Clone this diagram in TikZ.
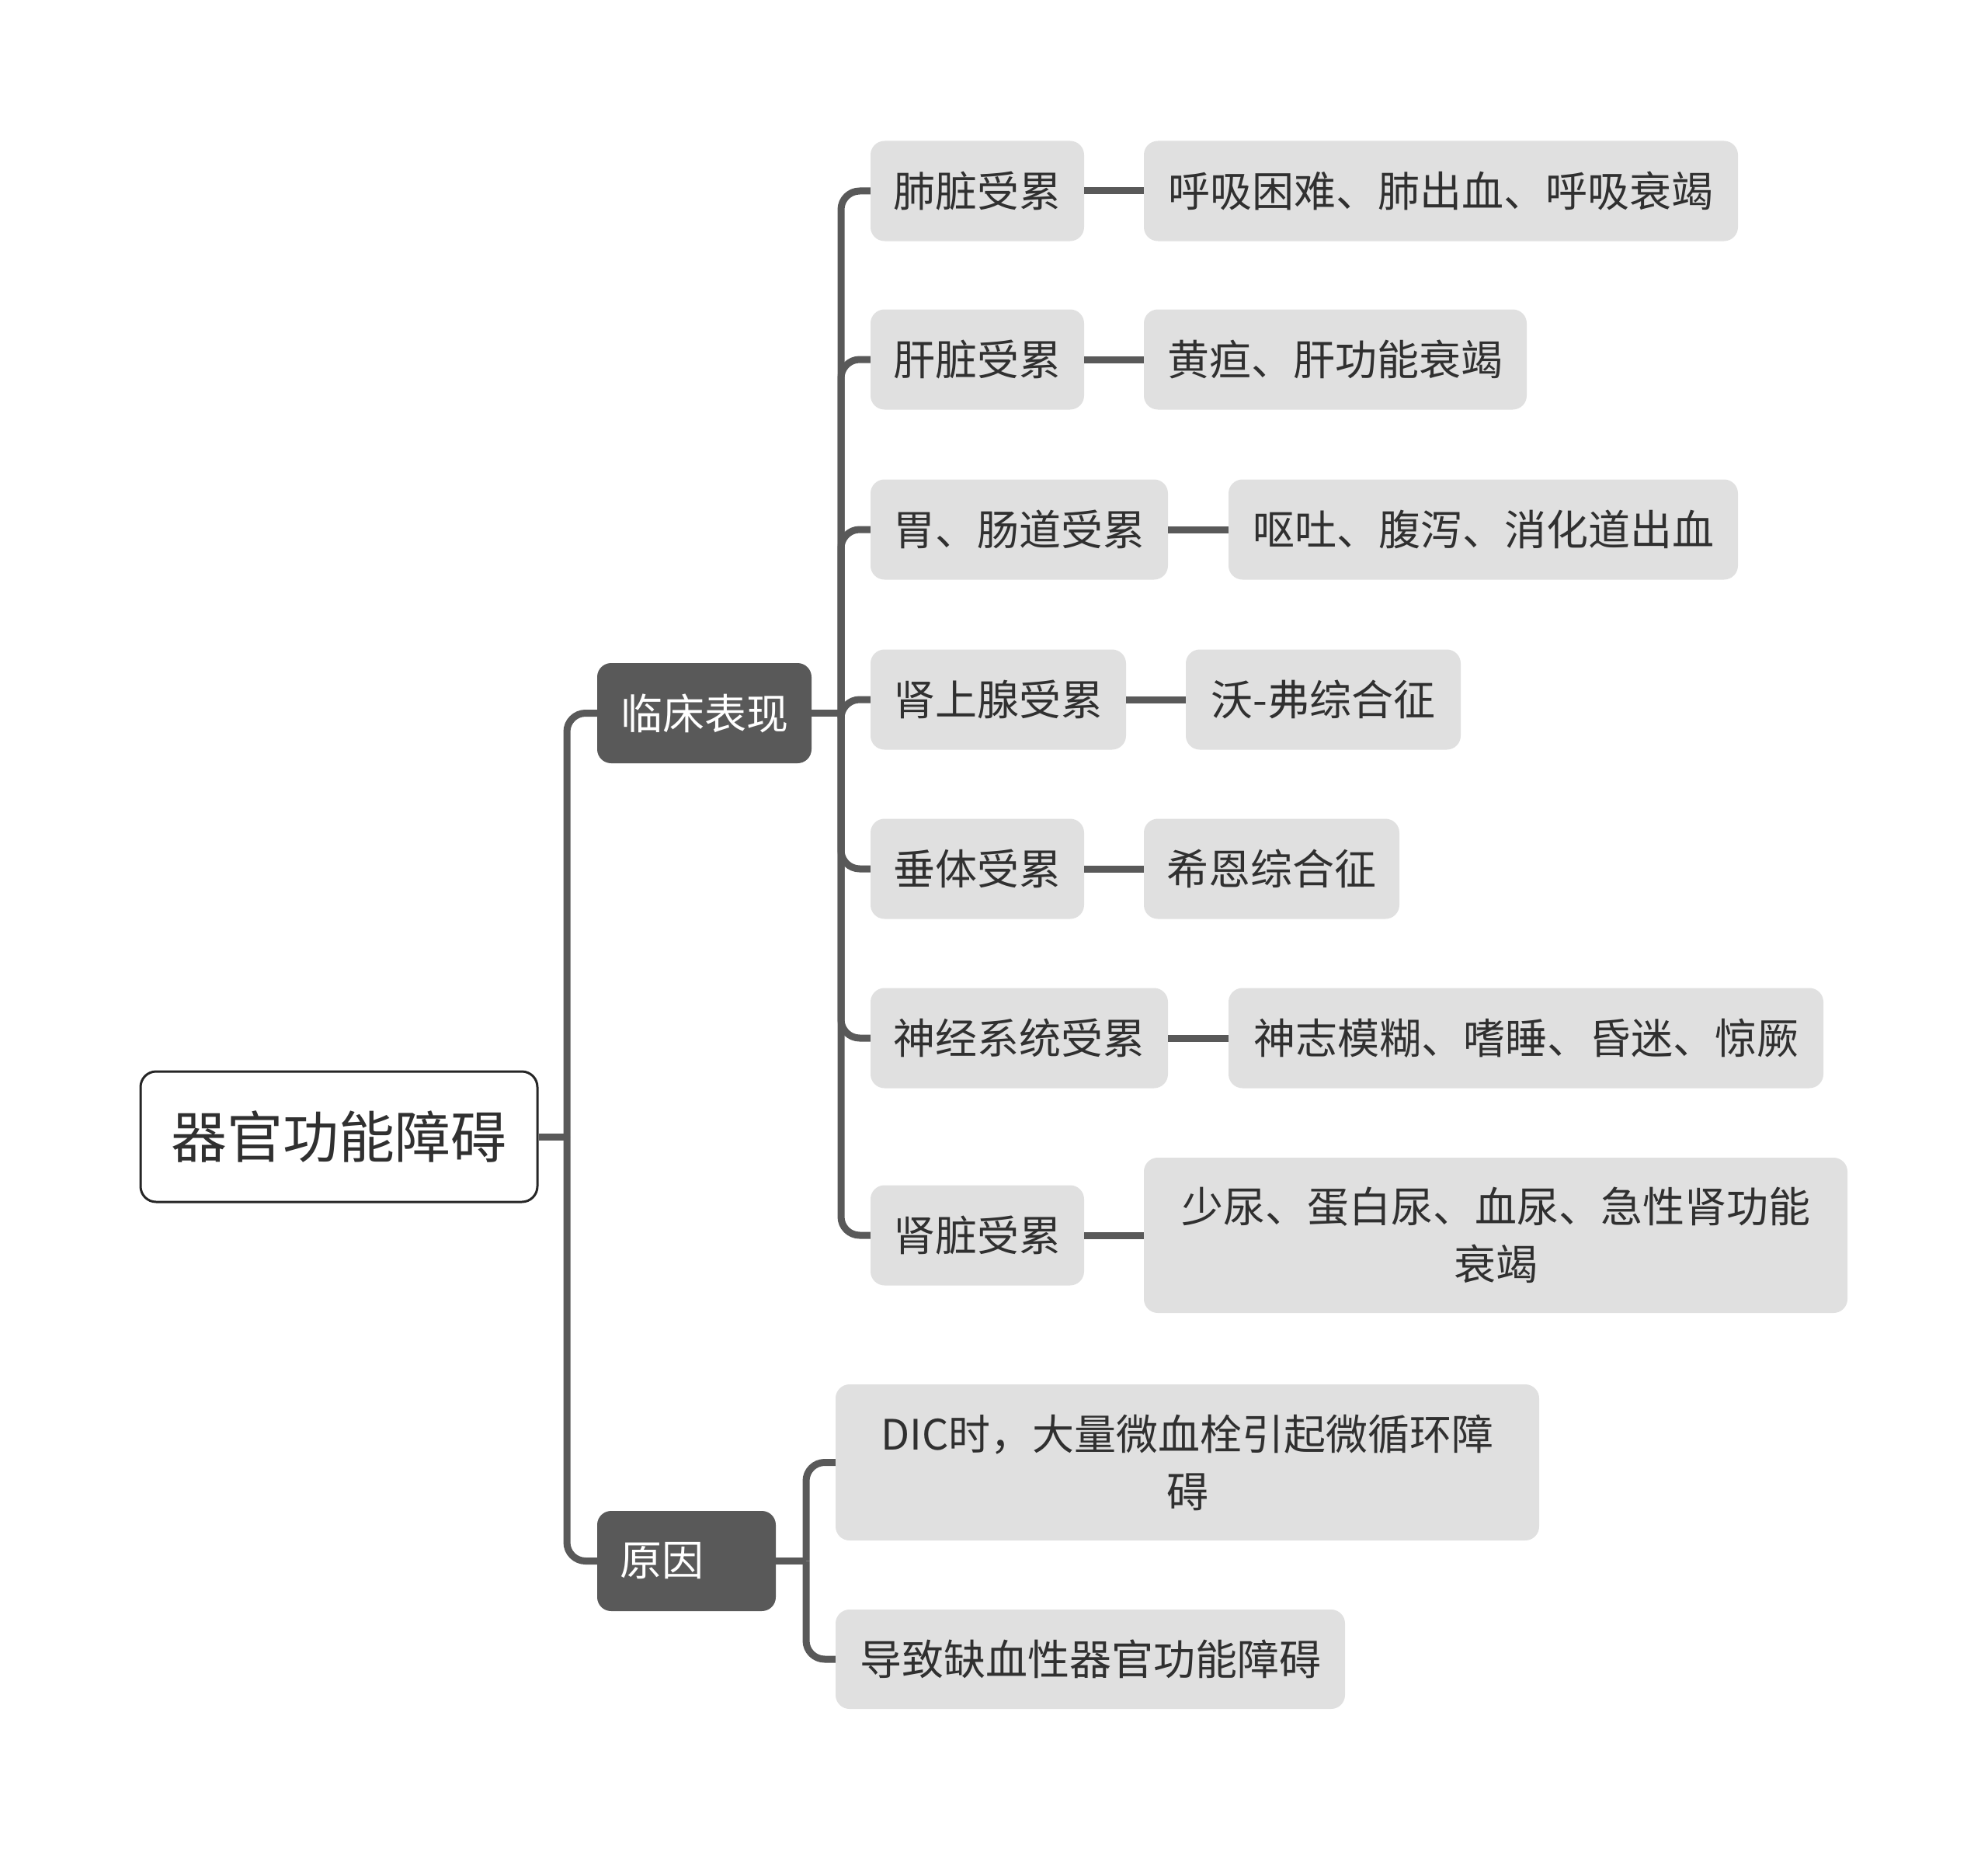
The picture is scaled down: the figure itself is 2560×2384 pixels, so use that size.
\documentclass[tikz,border=0pt]{standalone}
\usepackage{fontspec}
\setmainfont{Noto Sans CJK SC}
\definecolor{linec}{HTML}{595959}
\definecolor{boxc}{HTML}{E0E0E0}
\definecolor{txtc}{HTML}{303030}
\begin{document}
\begin{tikzpicture}[x=1pt,y=-1pt,
  rootbox/.style={draw=txtc!80!black,line width=3pt,fill=white,rounded corners=20pt,inner sep=0pt,text=txtc,font=\fontsize{72}{86}\selectfont},
  lonebox/.style={fill=linec,rounded corners=18pt,inner sep=0pt,text=white,minimum height=129,font=\fontsize{54}{74}\selectfont},
  ltwobox/.style={fill=boxc,rounded corners=18pt,inner sep=0pt,text=txtc,minimum height=129,align=center,font=\fontsize{54}{74}\selectfont},
  conn/.style={draw=linec,line width=9pt},
  rconn/.style={draw=linec,line width=9pt,rounded corners=24pt}]
\useasboundingbox[fill=white] (0,0) rectangle (2560,2384);

\node[rootbox,minimum width=511,minimum height=168] (root) at (436.5,1464) {器官功能障碍};
\node[lonebox,minimum width=276] (la) at (907,918.5) {临床表现};
\node[lonebox,minimum width=230] (lb) at (884,2010.5) {\makebox[172pt][l]{原因}};

\node[ltwobox,minimum width=275] (a1) at (1258.5,246) {肺脏受累};
\node[ltwobox,minimum width=765] (b1) at (1855.5,246) {呼吸困难、肺出血、呼吸衰竭};
\node[ltwobox,minimum width=275] (a2) at (1258.5,463) {肝脏受累};
\node[ltwobox,minimum width=493] (b2) at (1719.5,463) {黄疸、肝功能衰竭};
\node[ltwobox,minimum width=383] (a3) at (1312.5,682) {胃、肠道受累};
\node[ltwobox,minimum width=656] (b3) at (1910,682) {呕吐、腹泻、消化道出血};
\node[ltwobox,minimum width=329] (a4) at (1285.5,901) {肾上腺受累};
\node[ltwobox,minimum width=354] (b4) at (1704,901) {沃-弗综合征};
\node[ltwobox,minimum width=275] (a5) at (1258.5,1119) {垂体受累};
\node[ltwobox,minimum width=329] (b5) at (1637.5,1119) {希恩综合征};
\node[ltwobox,minimum width=383] (a6) at (1312.5,1337) {神经系统受累};
\node[ltwobox,minimum width=766] (b6) at (1965,1337) {神志模糊、嗜睡、昏迷、惊厥};
\node[ltwobox,minimum width=275] (a7) at (1258.5,1591) {肾脏受累};
\node[ltwobox,minimum width=906,minimum height=200] (b7) at (1926,1591) {少尿、蛋白尿、血尿、急性肾功能\\衰竭};

\node[ltwobox,minimum width=906,minimum height=201] (c1) at (1529,1883.5) {DIC时，大量微血栓引起微循环障\\碍};
\node[ltwobox,minimum width=656,minimum height=128] (c2) at (1404,2137) {导致缺血性器官功能障碍};

% level 1
\coordinate (ja) at (730,1464);
\draw[conn] (root.east) -- (ja);
\draw[rconn] (ja) |- (la.west);
\draw[rconn] (ja) |- (lb.west);

% level 2 under 临床表现
\coordinate (jb) at (1083,918.5);
\draw[conn] (la.east) -- (jb);
\foreach \n in {a1,a2,a3,a4,a5,a6,a7} {
  \draw[rconn] (jb) |- (\n.west);
}
% level 2 under 原因
\coordinate (jc) at (1038,2010.5);
\draw[conn] (lb.east) -- (jc);
\draw[rconn] (jc) |- (c1.west);
\draw[rconn] (jc) |- (c2.west);

% leaves
\draw[conn] (a1.east) -- (b1.west);
\draw[conn] (a2.east) -- (b2.west);
\draw[conn] (a3.east) -- (b3.west);
\draw[conn] (a4.east) -- (b4.west);
\draw[conn] (a5.east) -- (b5.west);
\draw[conn] (a6.east) -- (b6.west);
\draw[conn] (a7.east) -- (b7.west);
\end{tikzpicture}
\end{document}
